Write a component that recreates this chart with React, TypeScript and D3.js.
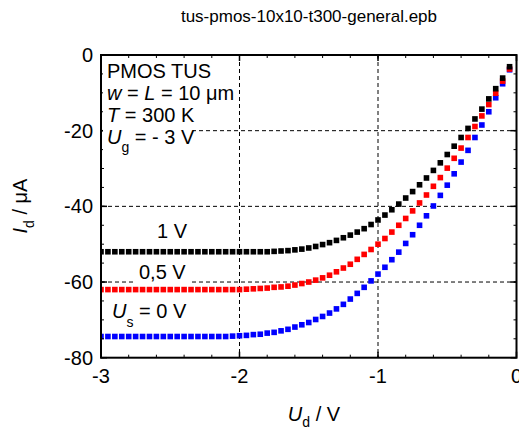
import React from 'react';
import * as d3 from 'd3';

const W = 519;
const H = 432;

// Drain voltage U_d / V
const Ud = [
  -3, -2.95, -2.9, -2.85, -2.8, -2.75, -2.7, -2.65, -2.6, -2.55,
  -2.5, -2.45, -2.4, -2.35, -2.3, -2.25, -2.2, -2.15, -2.1, -2.05,
  -2, -1.95, -1.9, -1.85, -1.8, -1.75, -1.7, -1.65, -1.6, -1.55,
  -1.5, -1.45, -1.4, -1.35, -1.3, -1.25, -1.2, -1.15, -1.1, -1.05,
  -1, -0.95, -0.9, -0.85, -0.8, -0.75, -0.7, -0.65, -0.6, -0.55,
  -0.5, -0.45, -0.4, -0.35, -0.3, -0.25, -0.2, -0.15, -0.1, -0.05,
];

// I_d / µA for U_s = 1 V
const Id_Us1 = [
  -52, -52, -52, -52, -52, -52, -52, -52, -52, -52,
  -52, -52, -52, -52, -52, -52, -52, -52, -52, -52,
  -52, -52, -52, -52, -52, -51.9, -51.8, -51.7, -51.5, -51.3,
  -51.0, -50.6, -50.1, -49.6, -49.0, -48.3, -47.6, -46.8, -45.9, -44.8,
  -43.6, -42.3, -40.9, -39.4, -37.8, -36.1, -34.3, -32.5, -30.5, -28.5,
  -26.3, -24.1, -21.8, -19.4, -16.9, -14.3, -11.6, -8.9, -6.1, -3.1,
];

// I_d / µA for U_s = 0.5 V
const Id_Us05 = [
  -62, -62, -62, -62, -62, -62, -62, -62, -62, -62,
  -62, -62, -62, -62, -62, -62, -62, -62, -62, -62,
  -62, -61.9, -61.8, -61.7, -61.6, -61.4, -61.3, -61.1, -60.8, -60.4,
  -60.0, -59.5, -58.9, -58.2, -57.3, -56.3, -55.3, -54.0, -52.7, -51.4,
  -50.0, -48.5, -46.8, -45.0, -43.2, -41.2, -39.1, -37.0, -34.7, -32.4,
  -29.9, -27.3, -24.6, -21.8, -18.9, -16.1, -13.1, -10.1, -6.9, -3.7,
];

// I_d / µA for U_s = 0 V
const Id_Us0 = [
  -74.4, -74.4, -74.4, -74.4, -74.4, -74.4, -74.4, -74.4, -74.4, -74.4,
  -74.4, -74.4, -74.4, -74.4, -74.4, -74.4, -74.4, -74.4, -74.4, -74.3,
  -74.2, -74.1, -73.9, -73.8, -73.5, -73.3, -72.9, -72.5, -71.9, -71.3,
  -70.7, -69.9, -69.1, -68.2, -67.1, -65.9, -64.5, -63.0, -61.4, -59.7,
  -57.9, -56.1, -54.1, -52.1, -49.8, -47.5, -45.0, -42.5, -39.9, -37.1,
  -34.4, -31.4, -28.3, -25.2, -21.8, -18.5, -15.0, -11.3, -7.6, -3.9,
];

const xTicks = [-3, -2, -1, 0];
const xTickLabels = ['-3', '-2', '-1', '0'];
const yTicks = [0, -20, -40, -60, -80];
const yTickLabels = ['0', '-20', '-40', '-60', '-80'];
const xGrid = [-2, -1];
const yGrid = [-20, -40, -60];

const series = [
  { name: '0 V', values: Id_Us0, color: '#0000ff' },
  { name: '0,5 V', values: Id_Us05, color: '#ff0000' },
  { name: '1 V', values: Id_Us1, color: '#000000' },
];

const FONT = '"Liberation Sans", Arial, Helvetica, sans-serif';

export default function App() {
  const x = d3.scaleLinear().domain([-3, 0]).range([101, 516.5]);
  const y = d3.scaleLinear().domain([-80, 0]).range([357.7, 55]);
  const [x0, x1] = x.range();
  const [y0, y1] = y.range();

  const xMinor = d3.range(-3, 0.001, 0.2);
  const yMinor = d3.range(-80, 0.001, 5);
  const ms = 5.6;

  return (
    <svg
      width={W}
      height={H}
      style={{ position: 'absolute', left: 0, top: 0, background: '#fff' }}
      fontFamily={FONT}
    >
      <defs>
        <clipPath id="plotclip">
          <rect x={x0} y={y1} width={x1 - x0} height={y0 - y1} />
        </clipPath>
      </defs>
      <rect x={0} y={0} width={W} height={H} fill="#fff" />

      {/* title */}
      <text x={309} y={22} fontSize={17} textAnchor="middle" fill="#000">
        tus-pmos-10x10-t300-general.epb
      </text>

      {/* grid */}
      {xGrid.map((v) => (
        <line key={'gx' + v} x1={x(v)} x2={x(v)} y1={y1} y2={y0} stroke="#000" strokeWidth={1} strokeDasharray="4,3" />
      ))}
      {yGrid.map((v) => (
        <line key={'gy' + v} x1={x0} x2={x1} y1={y(v)} y2={y(v)} stroke="#000" strokeWidth={1} strokeDasharray="4,3" />
      ))}

      {/* data */}
      <g clipPath="url(#plotclip)">
        {series.map((s) => (
          <g key={s.name} fill={s.color}>
            {Ud.map((u, i) => (
              <rect key={i} x={x(u) - ms / 2} y={y(s.values[i]) - ms / 2} width={ms} height={ms} />
            ))}
          </g>
        ))}
      </g>

      {/* frame */}
      <rect x={x0} y={y1} width={x1 - x0} height={y0 - y1} fill="none" stroke="#000" strokeWidth={2} />

      {/* ticks */}
      {xMinor.map((v, i) => (
        <g key={'xm' + i}>
          <line x1={x(v)} x2={x(v)} y1={y0} y2={y0 - 3} stroke="#000" strokeWidth={1} />
          <line x1={x(v)} x2={x(v)} y1={y1} y2={y1 + 3} stroke="#000" strokeWidth={1} />
        </g>
      ))}
      {xTicks.map((v) => (
        <g key={'xt' + v}>
          <line x1={x(v)} x2={x(v)} y1={y0} y2={y0 - 6} stroke="#000" strokeWidth={1.5} />
          <line x1={x(v)} x2={x(v)} y1={y1} y2={y1 + 6} stroke="#000" strokeWidth={1.5} />
        </g>
      ))}
      {yMinor.map((v, i) => (
        <g key={'ym' + i}>
          <line x1={x0} x2={x0 + 3} y1={y(v)} y2={y(v)} stroke="#000" strokeWidth={1} />
          <line x1={x1} x2={x1 - 3} y1={y(v)} y2={y(v)} stroke="#000" strokeWidth={1} />
        </g>
      ))}
      {yTicks.map((v) => (
        <g key={'yt' + v}>
          <line x1={x0} x2={x0 + 6} y1={y(v)} y2={y(v)} stroke="#000" strokeWidth={1.5} />
          <line x1={x1} x2={x1 - 6} y1={y(v)} y2={y(v)} stroke="#000" strokeWidth={1.5} />
        </g>
      ))}

      {/* tick labels */}
      {xTicks.map((v, i) => (
        <text key={'xl' + v} x={x(v)} y={383} fontSize={20} textAnchor="middle" fill="#000">
          {xTickLabels[i]}
        </text>
      ))}
      {yTicks.map((v, i) => (
        <text key={'yl' + v} x={93} y={y(v) + 7} fontSize={20} textAnchor="end" fill="#000">
          {yTickLabels[i]}
        </text>
      ))}

      {/* axis titles */}
      <text x={314} y={421} fontSize={20} textAnchor="middle" fill="#000">
        <tspan fontStyle="italic">U</tspan>
        <tspan fontSize={14} dy={6}>d</tspan>
        <tspan dy={-6}> / V</tspan>
      </text>
      <text transform="translate(27,206) rotate(-90)" fontSize={20} textAnchor="middle" fill="#000">
        <tspan fontStyle="italic">I</tspan>
        <tspan fontSize={14} dy={7}>d</tspan>
        <tspan dy={-7}> / μA</tspan>
      </text>

      {/* info block */}
      <rect x={103} y={61} width={120} height={21} fill="#fff" />
      <rect x={103} y={84} width={132} height={21} fill="#fff" />
      <rect x={103} y={106} width={96} height={21} fill="#fff" />
      <rect x={103} y={127} width={90} height={32} fill="#fff" />
      <text x={107} y={78} fontSize={20} fill="#000">PMOS TUS</text>
      <text x={107} y={100} fontSize={20} fill="#000">
        <tspan fontStyle="italic">w</tspan>
        <tspan> = </tspan>
        <tspan fontStyle="italic">L</tspan>
        <tspan> = 10 μm</tspan>
      </text>
      <text x={107} y={122} fontSize={20} fill="#000">
        <tspan fontStyle="italic">T</tspan>
        <tspan> = 300 K</tspan>
      </text>
      <text x={107} y={144} fontSize={20} fill="#000">
        <tspan fontStyle="italic">U</tspan>
        <tspan fontSize={14} dy={8}>g</tspan>
        <tspan dy={-8}> = - 3 V</tspan>
      </text>

      {/* curve labels */}
      <text x={157} y={238} fontSize={20} fill="#000">1 V</text>
      <rect x={136} y={262} width={53} height={22} fill="#fff" />
      <text x={139} y={279} fontSize={20} fill="#000">0,5 V</text>
      <text x={112} y={318} fontSize={20} fill="#000">
        <tspan fontStyle="italic">U</tspan>
        <tspan fontSize={14} dy={9}>s</tspan>
        <tspan dy={-9}> = 0 V</tspan>
      </text>
    </svg>
  );
}
